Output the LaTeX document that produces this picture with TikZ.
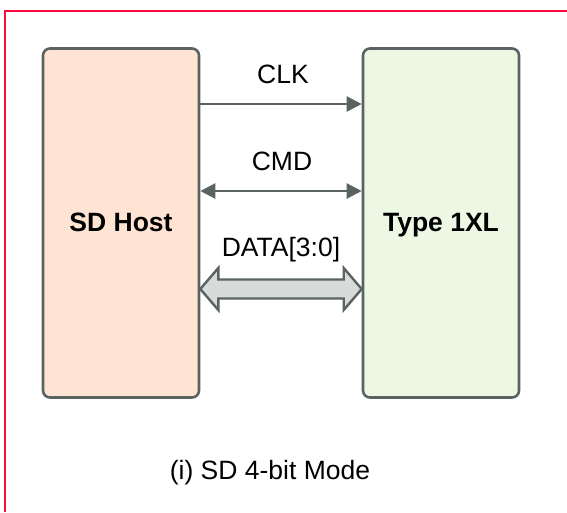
\documentclass[tikz,border=0pt]{standalone}
\usepackage{fontspec}
\setmainfont{Liberation Sans}
\usetikzlibrary{arrows.meta,calc}
\definecolor{frame}{HTML}{FF0A3C}
\definecolor{edge}{HTML}{5A6262}
\definecolor{hostfill}{HTML}{FFE4D4}
\definecolor{cardfill}{HTML}{EDF8E4}
\definecolor{busfill}{HTML}{D9DBDB}
\tikzset{
  blockbox/.style={draw=edge, line width=2.6pt, rounded corners=7pt, inner sep=0pt,
    minimum width=156pt, minimum height=349pt, text height=20pt, text depth=4pt,
    font=\fontsize{26.5}{30}\selectfont\bfseries},
  sig/.style={draw=edge, line width=2.4pt, -{Triangle[length=15pt,width=15pt]}},
  bisig/.style={draw=edge, line width=2.4pt, {Triangle[length=15pt,width=15pt]}-{Triangle[length=15pt,width=15pt]}},
  lbl/.style={font=\fontsize{26.5}{30}\selectfont, inner sep=0pt}
}
\begin{document}
\begin{tikzpicture}[x=1pt,y=-1pt]
\useasboundingbox (0,0) rectangle (567,512);
\draw[frame, line width=2pt] (4.5,512) -- (4.5,11) -- (567,11);
\node[blockbox, fill=hostfill] (host) at (121,223) {SD Host};
\node[blockbox, fill=cardfill] (card) at (441,223) {Type 1XL};
\coordinate (clkA) at (host.east |- 0,104);
\coordinate (clkB) at (card.west |- 0,104);
\draw[sig] (clkA) -- (clkB);
\coordinate (cmdA) at (host.east |- 0,191);
\coordinate (cmdB) at (card.west |- 0,191);
\draw[bisig] (cmdA) -- (cmdB);
\node[lbl] (clk) at (283,74) {CLK};
\node[lbl] (cmd) at (282,161) {CMD};
\node[lbl] (data) at (281,250) {DATA[3:0]};
% fat double arrow
\coordinate (dA) at (host.east |- 0,289);
\coordinate (dB) at (card.west |- 0,289);
\draw[draw=edge, fill=busfill, line width=2.4pt, line join=miter]
  (dA) -- ++(18,-21) -- ++(0,11.5) -- ($(dB)+(-18,-9.5)$) -- ++(0,-11.5) -- (dB)
  -- ++(-18,21) -- ++(0,-11.5) -- ($(dA)+(18,9.5)$) -- ++(0,11.5) -- cycle;
\node[lbl] (cap) at (270,473) {(i) SD 4-bit Mode};
\end{tikzpicture}
\end{document}
